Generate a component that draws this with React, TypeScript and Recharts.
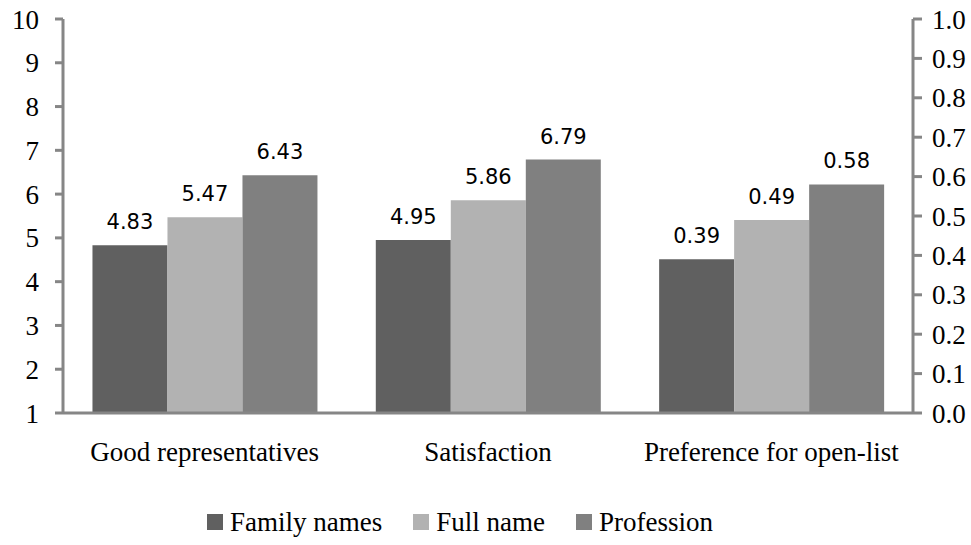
import React from 'react';
import { BarChart, Bar, XAxis, YAxis, Legend, LabelList } from 'recharts';

const categories = ['Good representatives', 'Satisfaction', 'Preference for open-list'];
const familyNames = [4.83, 4.95, 0.39];
const fullName = [5.47, 5.86, 0.49];
const profession = [6.43, 6.79, 0.58];
// the open-list preference is a share, read on the right-hand 0–1 scale
const scaleOf = ['left', 'left', 'right'];
const leftTicks = [1, 2, 3, 4, 5, 6, 7, 8, 9, 10];
const rightTicks = [0, 0.1, 0.2, 0.3, 0.4, 0.5, 0.6, 0.7, 0.8, 0.9, 1.0];

const series = [
  { key: 'family', name: 'Family names', values: familyNames, color: '#606060' },
  { key: 'full', name: 'Full name', values: fullName, color: '#b2b2b2' },
  { key: 'prof', name: 'Profession', values: profession, color: '#808080' },
];

const data = categories.map((name, i) => {
  const row: Record<string, any> = { name };
  series.forEach((s) => {
    row[s.key + 'L'] = scaleOf[i] === 'left' ? s.values[i] : null;
    row[s.key + 'R'] = scaleOf[i] === 'right' ? s.values[i] : null;
  });
  return row;
});

const AXIS = '#868686';
const SERIF = '"Liberation Serif", "Times New Roman", serif';
const SANS = '"DejaVu Sans", sans-serif';

const tickStyle = { fill: '#000', fontSize: 27, fontFamily: SERIF };
const labelStyle = { fill: '#000', fontSize: 21, fontFamily: SANS };
const fmtLabel = (v: any) => (v == null ? '' : Number(v).toFixed(2));

const LegendBox = () => (
  <div
    style={{
      display: 'flex',
      justifyContent: 'center',
      alignItems: 'center',
      paddingRight: 51,
      fontFamily: SERIF,
      fontSize: 27,
      color: '#000',
      height: 46,
    }}
  >
    {series.map((s, i) => (
      <div
        key={s.key}
        style={{ display: 'flex', alignItems: 'center', marginRight: i < series.length - 1 ? 31 : 0 }}
      >
        <span style={{ width: 16, height: 16, background: s.color, marginRight: 7, display: 'inline-block' }} />
        <span>{s.name}</span>
      </div>
    ))}
  </div>
);

export default function App() {
  return (
    <div style={{ position: 'absolute', left: 0, top: 0, background: '#fff' }}>
      <BarChart
        width={971}
        height={545}
        data={data}
        margin={{ top: 19, right: 0, left: 0, bottom: 0 }}
        barCategoryGap="10.4%"
        barGap={0}
      >
        <XAxis
          xAxisId="main"
          dataKey="name"
          interval={0}
          height={86}
          tickLine={false}
          tickMargin={23}
          axisLine={{ stroke: AXIS, strokeWidth: 3 }}
          tick={tickStyle}
        />
        {/* second category axis so the right-scale bars get their own slots */}
        <XAxis xAxisId="alt" dataKey="name" hide height={0} />
        <YAxis
          yAxisId="left"
          type="number"
          domain={[1, 10]}
          ticks={leftTicks}
          allowDataOverflow
          width={63}
          tickSize={8}
          tickMargin={16}
          axisLine={{ stroke: AXIS, strokeWidth: 3 }}
          tickLine={{ stroke: AXIS, strokeWidth: 3 }}
          tick={tickStyle}
        />
        <YAxis
          yAxisId="right"
          orientation="right"
          type="number"
          domain={[0, 1]}
          ticks={rightTicks}
          allowDataOverflow
          width={58}
          tickSize={9}
          tickMargin={10}
          tickFormatter={(v: number) => v.toFixed(1)}
          axisLine={{ stroke: AXIS, strokeWidth: 3 }}
          tickLine={{ stroke: AXIS, strokeWidth: 3 }}
          tick={tickStyle}
        />
        {series.map((s) => (
          <Bar
            key={s.key + 'L'}
            xAxisId="main"
            yAxisId="left"
            dataKey={s.key + 'L'}
            name={s.name}
            fill={s.color}
            isAnimationActive={false}
          >
            <LabelList dataKey={s.key + 'L'} position="top" offset={16} formatter={fmtLabel} style={labelStyle} />
          </Bar>
        ))}
        {series.map((s) => (
          <Bar
            key={s.key + 'R'}
            xAxisId="alt"
            yAxisId="right"
            dataKey={s.key + 'R'}
            name={s.name}
            fill={s.color}
            isAnimationActive={false}
          >
            <LabelList dataKey={s.key + 'R'} position="top" offset={16} formatter={fmtLabel} style={labelStyle} />
          </Bar>
        ))}
        <Legend verticalAlign="bottom" height={46} content={<LegendBox />} />
      </BarChart>
    </div>
  );
}
